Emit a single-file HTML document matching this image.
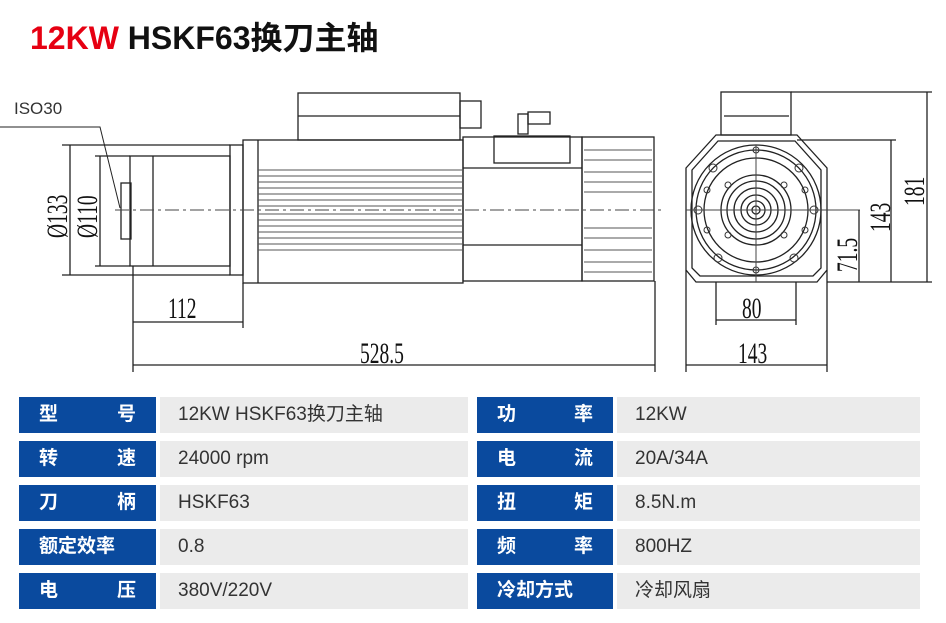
<!DOCTYPE html>
<html><head><meta charset="utf-8"><style>
body{margin:0;width:946px;height:623px;background:#fff;position:relative;overflow:hidden;font-family:"Liberation Sans","Noto Sans CJK SC",sans-serif}
.t{position:absolute;left:30px;top:13px;font-size:32px;font-weight:bold;color:#111}
.t span{color:#e60012}
.c{position:absolute;height:36px;line-height:36px;font-size:19px}
.l{background:#0a4a9e;color:#fff;font-weight:bold;padding:0 20px;box-sizing:border-box;display:flex;justify-content:space-between}
.v{background:#ebebeb;color:#333;padding-left:18px;box-sizing:border-box}
</style></head><body>
<div class="t"><span>12KW</span> HSKF63换刀主轴</div>
<svg width="946" height="390" style="position:absolute;left:0;top:0" fill="none" stroke="#222" stroke-width="1.3">
<text x="14" y="114" font-size="17" fill="#333" stroke="none" font-family="Liberation Sans">ISO30</text>
<polyline points="0,127 100,127 120,208" stroke-width="1"/>
<rect x="121" y="183" width="10" height="56"/>
<rect x="130" y="156" width="100" height="110"/>
<line x1="153" y1="156" x2="153" y2="266"/>
<rect x="230" y="145" width="13" height="130"/>
<rect x="243" y="140" width="220" height="143"/>
<line x1="258" y1="140" x2="258" y2="283"/>
<g stroke="#555" stroke-width="0.9">
<line x1="258" y1="170" x2="462" y2="170"/><line x1="258" y1="176" x2="462" y2="176"/><line x1="258" y1="182" x2="462" y2="182"/><line x1="258" y1="188" x2="462" y2="188"/><line x1="258" y1="194" x2="462" y2="194"/><line x1="258" y1="200" x2="462" y2="200"/><line x1="258" y1="206" x2="462" y2="206"/><line x1="258" y1="214" x2="462" y2="214"/><line x1="258" y1="220" x2="462" y2="220"/><line x1="258" y1="226" x2="462" y2="226"/><line x1="258" y1="232" x2="462" y2="232"/><line x1="258" y1="238" x2="462" y2="238"/><line x1="258" y1="244" x2="462" y2="244"/><line x1="258" y1="250" x2="462" y2="250"/>
</g>
<rect x="298" y="93" width="162" height="47"/>
<line x1="298" y1="116" x2="460" y2="116"/>
<rect x="460" y="101" width="21" height="27"/>
<rect x="463" y="137" width="119" height="144"/>
<line x1="463" y1="168" x2="582" y2="168"/><line x1="463" y1="245" x2="582" y2="245"/>
<rect x="494" y="136" width="76" height="27"/>
<rect x="518" y="114" width="10" height="20"/><rect x="528" y="112" width="22" height="12"/>
<rect x="582" y="137" width="72" height="144"/>
<g stroke="#555" stroke-width="0.9">
<line x1="584" y1="150" x2="652" y2="150"/><line x1="584" y1="160" x2="652" y2="160"/><line x1="584" y1="172" x2="652" y2="172"/><line x1="584" y1="182" x2="652" y2="182"/><line x1="584" y1="192" x2="652" y2="192"/><line x1="584" y1="228" x2="652" y2="228"/><line x1="584" y1="238" x2="652" y2="238"/><line x1="584" y1="250" x2="652" y2="250"/><line x1="584" y1="262" x2="652" y2="262"/><line x1="584" y1="272" x2="652" y2="272"/>
</g>
<line x1="115" y1="210" x2="665" y2="210" stroke-dasharray="14,4,3,4" stroke="#444" stroke-width="1"/>
<line x1="62" y1="145" x2="230" y2="145"/><line x1="62" y1="275" x2="230" y2="275"/>
<line x1="70" y1="145" x2="70" y2="275"/>
<line x1="95" y1="156" x2="130" y2="156"/><line x1="95" y1="266" x2="130" y2="266"/>
<line x1="100" y1="156" x2="100" y2="266"/>
<g fill="#111" stroke="none" font-family="Liberation Serif" font-size="30">
<text transform="translate(67,238) rotate(-90) scale(0.65,1)">Ø133</text>
<text transform="translate(97,238) rotate(-90) scale(0.65,1)">Ø110</text>
<text transform="translate(168,318) scale(0.65,1)">112</text>
<text transform="translate(360,363) scale(0.65,1)">528.5</text>
<text transform="translate(742,318) scale(0.65,1)">80</text>
<text transform="translate(738,363) scale(0.65,1)">143</text>
<text transform="translate(924,206) rotate(-90) scale(0.65,1)">181</text>
<text transform="translate(890,232) rotate(-90) scale(0.65,1)">143</text>
<text transform="translate(857,272) rotate(-90) scale(0.65,1)">71.5</text>
</g>
<line x1="133" y1="266" x2="133" y2="372"/><line x1="243" y1="283" x2="243" y2="328"/><line x1="655" y1="281" x2="655" y2="372"/>
<line x1="133" y1="322" x2="243" y2="322"/><line x1="133" y1="365" x2="655" y2="365"/>
<rect x="721" y="92" width="70" height="43"/>
<line x1="724" y1="116" x2="789" y2="116"/>
<polygon points="686,168 716,135 797,135 827,168 827,270 817,282 696,282 686,270"/>
<polygon points="692,170 718,141 795,141 821,170 821,268 813,276 700,276 692,268"/>
<circle cx="756" cy="210" r="65"/><circle cx="756" cy="210" r="60"/><circle cx="756" cy="210" r="52"/>
<circle cx="756" cy="210" r="35"/><circle cx="756" cy="210" r="29"/><circle cx="756" cy="210" r="22"/><circle cx="756" cy="210" r="15"/><circle cx="756" cy="210" r="9"/><circle cx="756" cy="210" r="4"/>
<g stroke="#333" stroke-width="1">
<circle cx="698" cy="210" r="4"/><circle cx="814" cy="210" r="4"/><circle cx="756" cy="150" r="3"/><circle cx="756" cy="270" r="3"/>
<circle cx="713" cy="168" r="4"/><circle cx="799" cy="168" r="4"/><circle cx="718" cy="258" r="4"/><circle cx="794" cy="258" r="4"/>
<circle cx="728" cy="185" r="3"/><circle cx="784" cy="185" r="3"/><circle cx="728" cy="235" r="3"/><circle cx="784" cy="235" r="3"/>
<circle cx="707" cy="230" r="3"/><circle cx="805" cy="230" r="3"/><circle cx="707" cy="190" r="3"/><circle cx="805" cy="190" r="3"/>
</g>
<line x1="686" y1="210" x2="860" y2="210" stroke="#444" stroke-width="1"/><line x1="756" y1="145" x2="756" y2="282" stroke="#444" stroke-width="1"/>
<line x1="791" y1="92" x2="932" y2="92"/><line x1="797" y1="140" x2="896" y2="140"/><line x1="827" y1="282" x2="932" y2="282"/>
<line x1="927" y1="92" x2="927" y2="282"/><line x1="891" y1="140" x2="891" y2="282"/><line x1="859" y1="210" x2="859" y2="282"/>
<line x1="716" y1="282" x2="716" y2="325"/><line x1="796" y1="282" x2="796" y2="325"/>
<line x1="716" y1="320" x2="796" y2="320"/>
<line x1="686" y1="270" x2="686" y2="372"/><line x1="827" y1="270" x2="827" y2="372"/>
<line x1="686" y1="365" x2="827" y2="365"/>
</svg>
<div class="c l" style="left:19px;top:397px;width:137px"><span>型</span><span>号</span></div>
<div class="c v" style="left:160px;top:397px;width:308px">12KW HSKF63换刀主轴</div>
<div class="c l" style="left:477px;top:397px;width:136px"><span>功</span><span>率</span></div>
<div class="c v" style="left:617px;top:397px;width:303px">12KW</div>
<div class="c l" style="left:19px;top:441px;width:137px"><span>转</span><span>速</span></div>
<div class="c v" style="left:160px;top:441px;width:308px">24000 rpm</div>
<div class="c l" style="left:477px;top:441px;width:136px"><span>电</span><span>流</span></div>
<div class="c v" style="left:617px;top:441px;width:303px">20A/34A</div>
<div class="c l" style="left:19px;top:485px;width:137px"><span>刀</span><span>柄</span></div>
<div class="c v" style="left:160px;top:485px;width:308px">HSKF63</div>
<div class="c l" style="left:477px;top:485px;width:136px"><span>扭</span><span>矩</span></div>
<div class="c v" style="left:617px;top:485px;width:303px">8.5N.m</div>
<div class="c l" style="left:19px;top:529px;width:137px"><span>额定效率</span></div>
<div class="c v" style="left:160px;top:529px;width:308px">0.8</div>
<div class="c l" style="left:477px;top:529px;width:136px"><span>频</span><span>率</span></div>
<div class="c v" style="left:617px;top:529px;width:303px">800HZ</div>
<div class="c l" style="left:19px;top:573px;width:137px"><span>电</span><span>压</span></div>
<div class="c v" style="left:160px;top:573px;width:308px">380V/220V</div>
<div class="c l" style="left:477px;top:573px;width:136px"><span>冷却方式</span></div>
<div class="c v" style="left:617px;top:573px;width:303px">冷却风扇</div>
</body></html>
